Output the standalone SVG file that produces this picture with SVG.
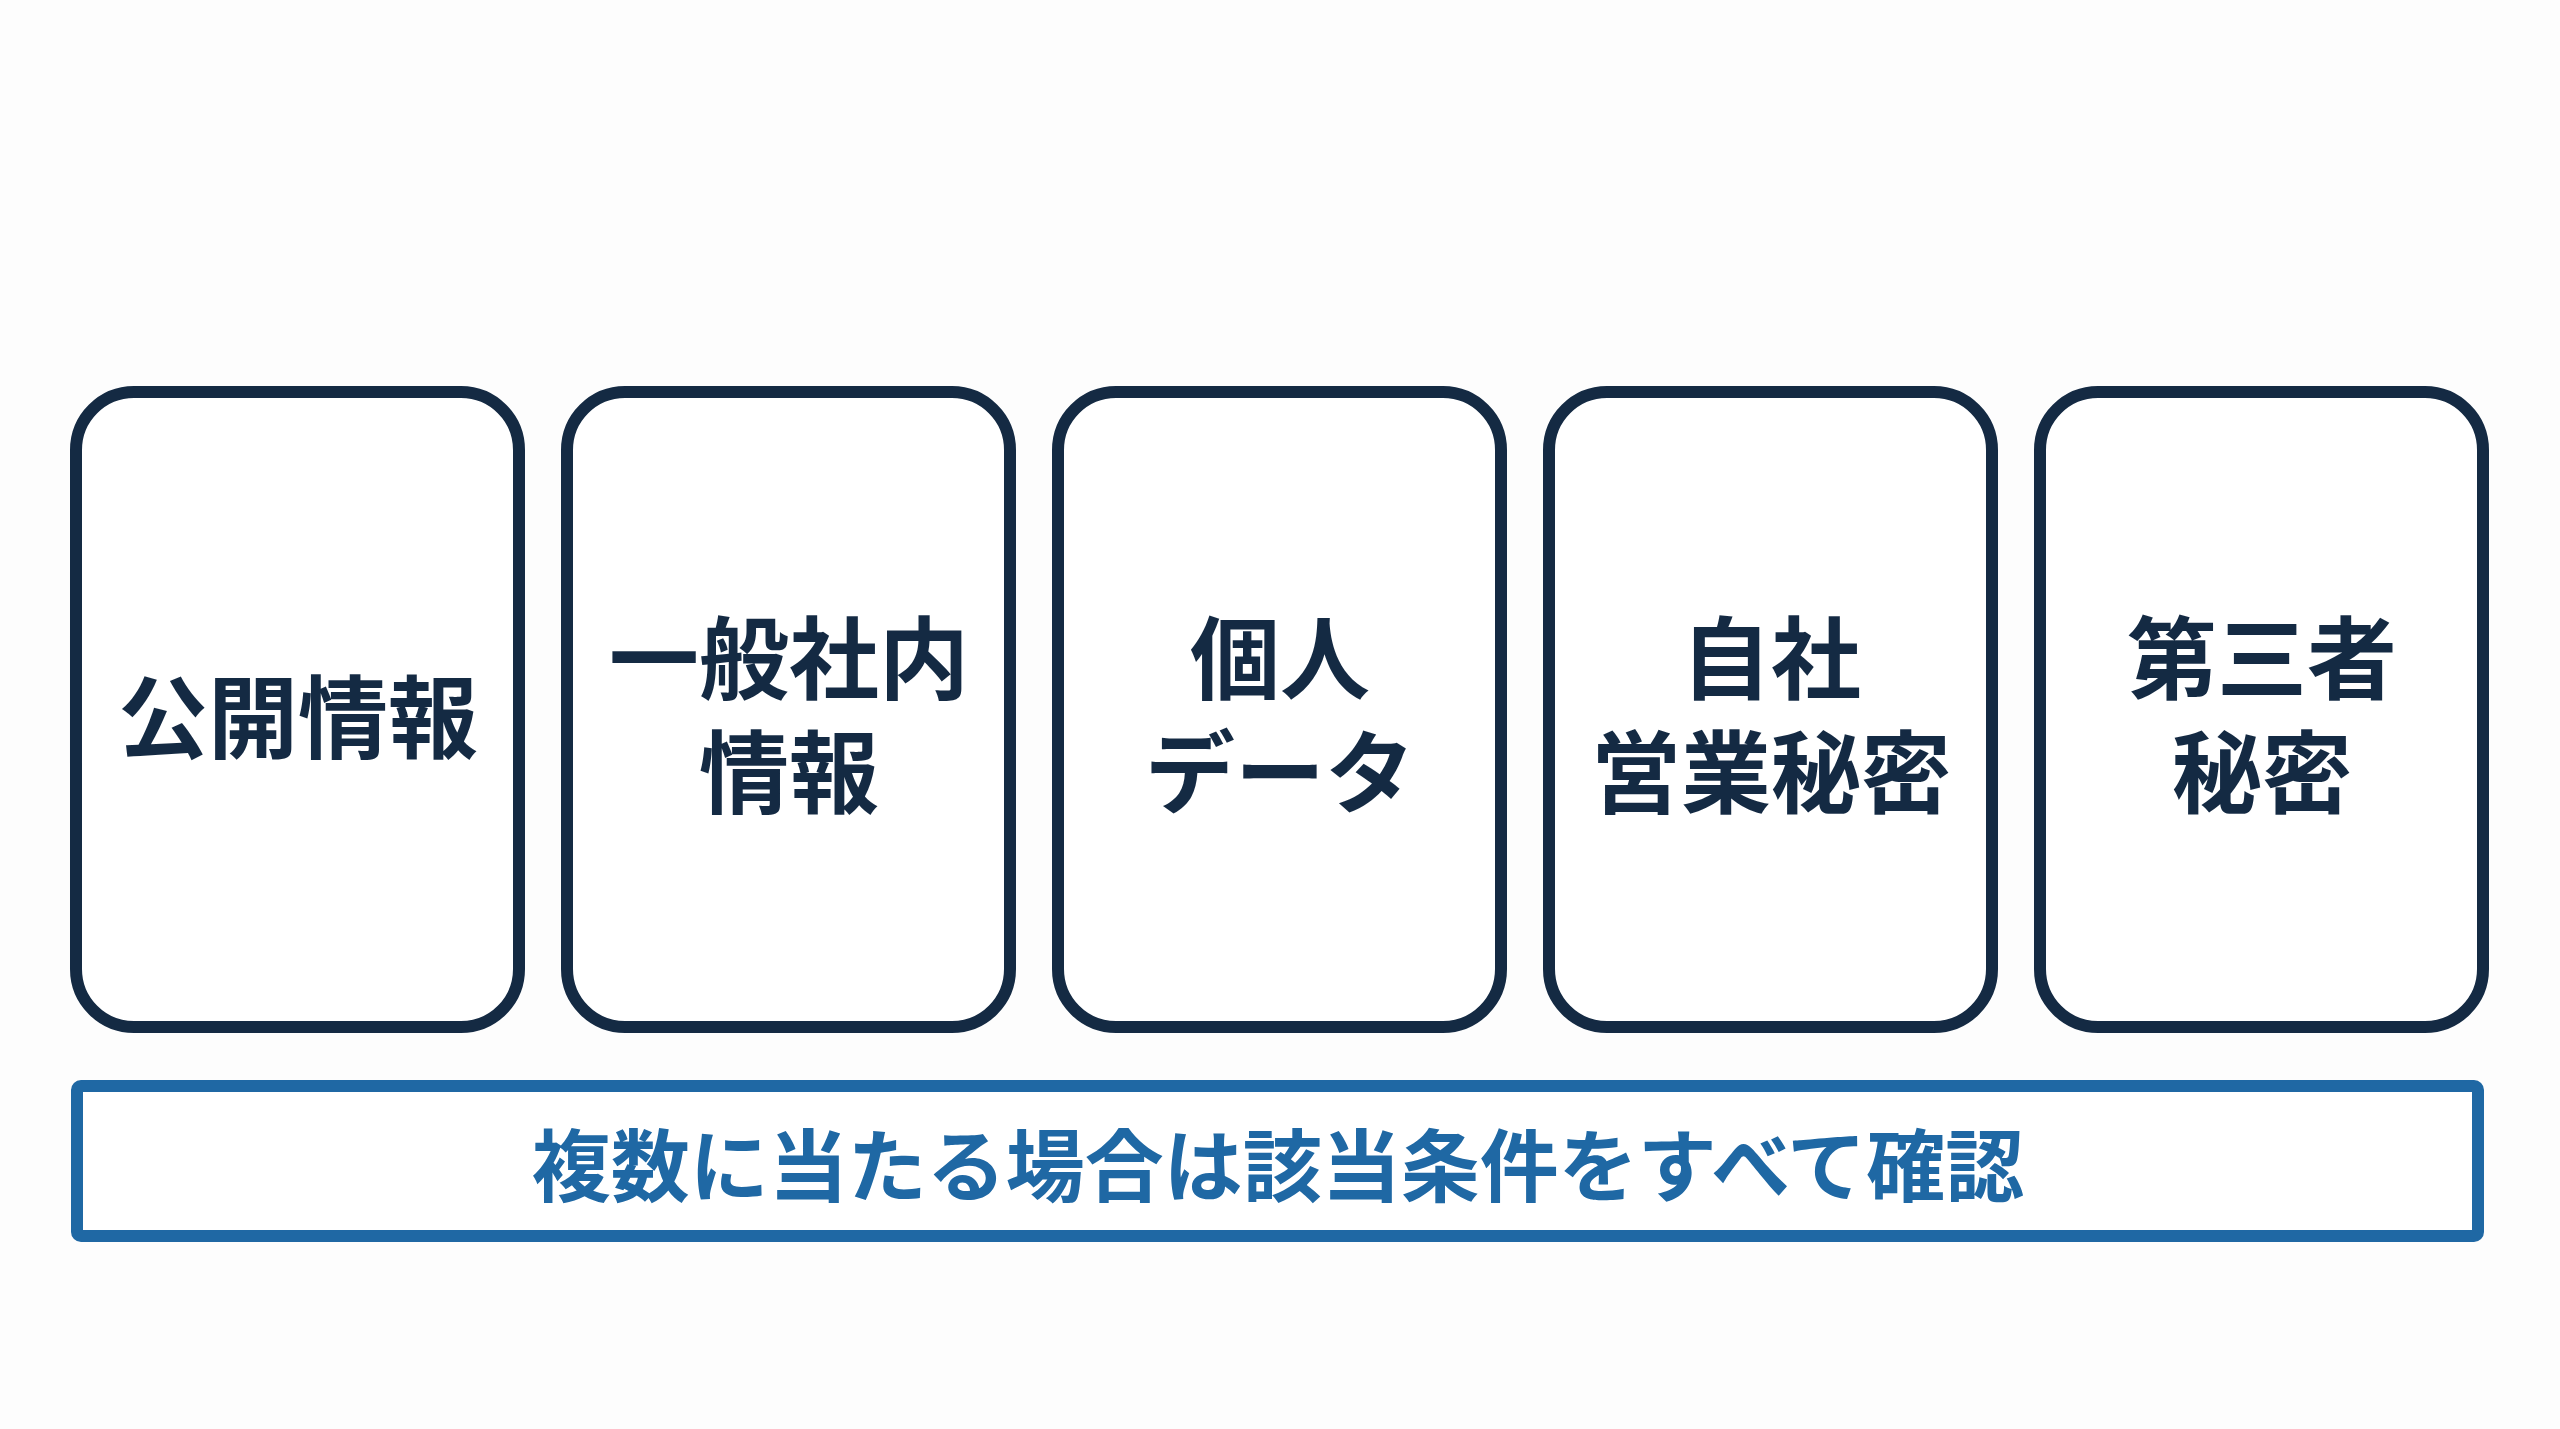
<svg xmlns="http://www.w3.org/2000/svg" width="2560" height="1429" viewBox="0 0 2560 1429">
<style>
.card{fill:#ffffff;stroke:#142a43;stroke-width:12}
.lbl{font-family:"Noto Sans CJK JP","Noto Sans CJK SC",sans-serif;font-weight:700;font-size:90px;fill:#142a43;text-anchor:middle;dominant-baseline:central}
.note{fill:#ffffff;stroke:#1f68a4;stroke-width:12}
.notet{font-family:"Noto Sans CJK JP","Noto Sans CJK SC",sans-serif;font-weight:700;font-size:79px;fill:#1f68a4;text-anchor:middle;dominant-baseline:central}
</style>
<rect width="2560" height="1429" fill="#fdfdfd"/>
<g id="connectors"></g>
<g id="card1">
<rect class="card" x="76" y="392" width="443" height="635" rx="58"/>
<text class="lbl" x="298" y="712">公開情報</text>
</g>
<g id="card2">
<rect class="card" x="567" y="392" width="443" height="635" rx="58"/>
<text class="lbl" x="789" y="653"><tspan x="789">一般社内</tspan><tspan x="789" dy="114">情報</tspan></text>
</g>
<g id="card3">
<rect class="card" x="1058" y="392" width="443" height="635" rx="58"/>
<text class="lbl" x="1280" y="653"><tspan x="1280">個人</tspan><tspan x="1280" dy="114">データ</tspan></text>
</g>
<g id="card4">
<rect class="card" x="1549" y="392" width="443" height="635" rx="58"/>
<text class="lbl" x="1771" y="653"><tspan x="1771">自社</tspan><tspan x="1771" dy="114">営業秘密</tspan></text>
</g>
<g id="card5">
<rect class="card" x="2040" y="392" width="443" height="635" rx="58"/>
<text class="lbl" x="2262" y="653"><tspan x="2262">第三者</tspan><tspan x="2262" dy="114">秘密</tspan></text>
</g>
<g id="note">
<rect class="note" x="77" y="1086" width="2401" height="150" rx="4"/>
<text class="notet" x="1278" y="1161">複数に当たる場合は該当条件をすべて確認</text>
</g>
</svg>
